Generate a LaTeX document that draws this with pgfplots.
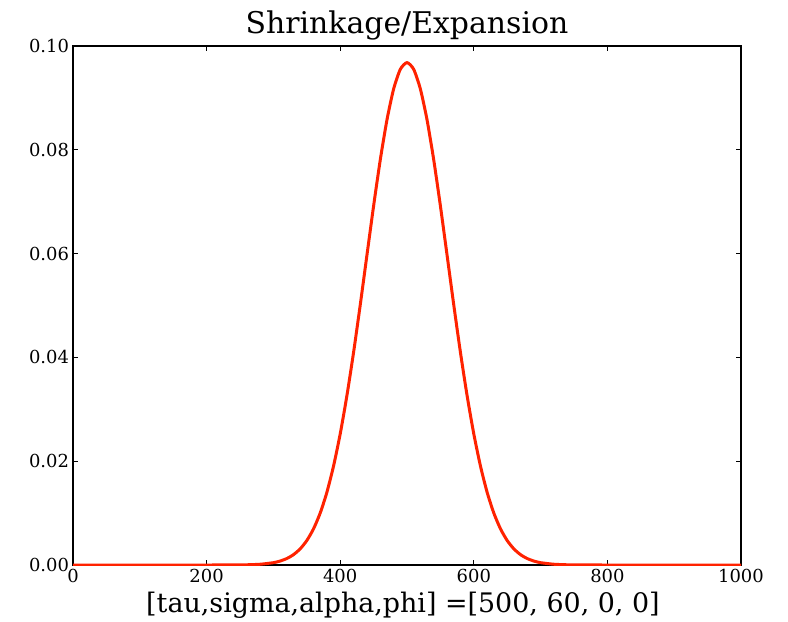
\documentclass[border=0pt]{standalone}
\usepackage{pgfplots}
\pgfplotsset{compat=1.18}
\usepackage{fontspec}
\setmainfont{DejaVu Serif}
\setsansfont{DejaVu Sans}
\definecolor{curvered}{RGB}{255,34,0}
\begin{document}
\begin{tikzpicture}
\begin{axis}[
  scale only axis,
  width=668bp, height=519bp,
  xmin=0, xmax=1000, ymin=0, ymax=0.1,
  axis line style={line width=1.2bp},
  tick style={line width=0.8bp, black},
  major tick length=5.5bp,
  tick align=inside,
  xtick={0,200,400,600,800,1000},
  ytick={0,0.02,0.04,0.06,0.08,0.1},
  /pgf/number format/assume math mode=true,
  /pgf/number format/1000 sep={},
  yticklabel style={/pgf/number format/fixed, /pgf/number format/fixed zerofill, /pgf/number format/precision=2, font=\fontsize{18}{18}\selectfont, xshift=-0.5bp},
  xticklabel style={font=\fontsize{18}{18}\selectfont, yshift=-1bp},
  scaled y ticks=false,
  scaled x ticks=false,
  title={Shrinkage/Expansion},
  title style={font=\fontsize{30}{30}\selectfont, yshift=-4bp},
  xlabel={[tau,sigma,alpha,phi] =[500, 60, 0, 0]},
  xlabel style={font=\fontsize{27}{27}\selectfont, yshift=-2bp, xshift=-4bp},
]
\coordinate (sw) at (rel axis cs:0,0);
\coordinate (ne) at (rel axis cs:1,1);
\addplot[color=curvered, line width=3bp, line join=round, no markers, smooth, tension=0.4] coordinates {
(0,0) (200,0) (240,0.0000110) (260,0.0000421) (280,0.000145) (300,0.000448)
(310,0.000757) (320,0.00124) (330,0.00199) (340,0.00310) (350,0.00471)
(360,0.00695) (370,0.00999) (380,0.01398) (390,0.01905) (400,0.02525)
(410,0.03260) (420,0.04096) (430,0.05011) (440,0.05968) (450,0.06918)
(460,0.07807) (470,0.08577) (480,0.09173) (490,0.09551) (500,0.0968)
(510,0.09551) (520,0.09173) (530,0.08577) (540,0.07807) (550,0.06918)
(560,0.05968) (570,0.05011) (580,0.04096) (590,0.03260) (600,0.02525)
(610,0.01905) (620,0.01398) (630,0.00999) (640,0.00695) (650,0.00471)
(660,0.00310) (670,0.00199) (680,0.00124) (690,0.000757) (700,0.000448)
(720,0.000145) (740,0.0000421) (760,0.0000110) (800,0) (1000,0)
};
\end{axis}
\path (sw) ++(-73bp,-54bp) coordinate (bbsw);
\path (ne) ++(47bp,46bp) coordinate (bbne);
\path (bbsw) rectangle (bbne);
\end{tikzpicture}
\end{document}
